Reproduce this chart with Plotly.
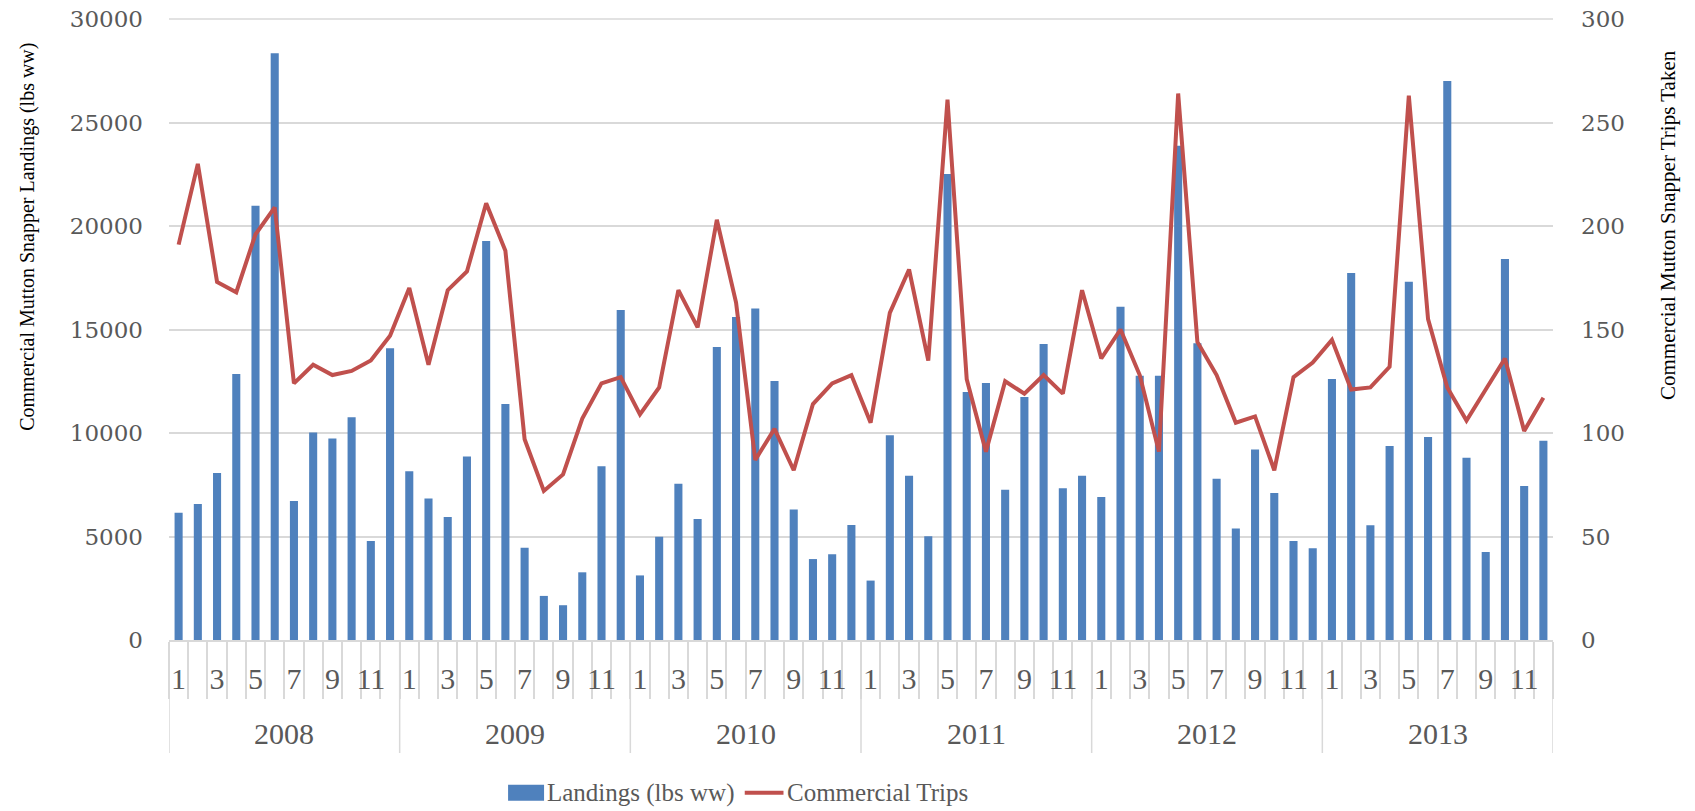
import plotly.graph_objects as go

years = ["2008", "2009", "2010", "2011", "2012", "2013"]
months = list(range(1, 13))

# Landings (lbs ww) per month
landings_2008 = [6150, 6570, 8070, 12850, 20980, 28340, 6710, 10030, 9730, 10760, 4780, 14090]
landings_2009 = [8150, 6840, 5940, 8870, 19280, 11400, 4460, 2130, 1680, 3270, 8390, 15940]
landings_2010 = [3120, 4990, 7550, 5850, 14150, 15600, 16020, 12510, 6310, 3910, 4140, 5560]
landings_2011 = [2870, 9890, 7940, 5010, 22510, 11980, 12420, 7260, 11740, 14300, 7330, 7940]
landings_2012 = [6910, 16100, 12770, 12770, 23880, 14330, 7790, 5390, 9200, 7100, 4780, 4430]
landings_2013 = [12610, 17730, 5540, 9370, 17310, 9810, 27000, 8810, 4250, 18400, 7440, 9630]

# Commercial trips per month
trips_2008 = [191, 230, 173, 168, 196, 209, 124, 133, 128, 130, 135, 147]
trips_2009 = [170, 133, 169, 178, 211, 188, 97, 72, 80, 107, 124, 127]
trips_2010 = [109, 122, 169, 151, 203, 163, 87, 102, 82, 114, 124, 128]
trips_2011 = [105, 158, 179, 135, 261, 126, 91, 125, 119, 128, 119, 169]
trips_2012 = [136, 150, 128, 91, 264, 144, 128, 105, 108, 82, 127, 134]
trips_2013 = [145, 121, 122, 132, 263, 155, 122, 106, 121, 136, 101, 117]

landings = (landings_2008 + landings_2009 + landings_2010
            + landings_2011 + landings_2012 + landings_2013)
trips = trips_2008 + trips_2009 + trips_2010 + trips_2011 + trips_2012 + trips_2013

n_months = len(months)
x = list(range(1, len(years) * n_months + 1))

# odd month labels only, as in the original
tick_vals = [k * n_months + m for k in range(len(years)) for m in months if m % 2 == 1]
tick_text = [str(m) for _ in years for m in months if m % 2 == 1]

GRID = "#d9d9d9"
GREY = "#595959"
BLUE = "#4f81bd"
RED = "#c0504d"
SERIF = "Liberation Serif, Times New Roman, serif"

fig = go.Figure()

fig.add_trace(go.Bar(
    x=x, y=landings,
    name="Landings (lbs ww)",
    marker=dict(color=BLUE, line=dict(width=0)),
    yaxis="y",
))

fig.add_trace(go.Scatter(
    x=x, y=trips,
    name="Commercial Trips",
    mode="lines",
    line=dict(color=RED, width=4),
    yaxis="y2",
))

shapes = []
annotations = []
for k, yr in enumerate(years + [None]):
    # year divider lines below the axis
    shapes.append(dict(
        type="line", xref="x", yref="paper",
        x0=0.5 + k * n_months, x1=0.5 + k * n_months,
        y0=0, y1=-0.182,
        line=dict(color=GRID, width=1.5),
    ))
    if yr is not None:
        annotations.append(dict(
            x=0.5 + k * n_months + n_months / 2, y=-0.150,
            xref="x", yref="paper", text=yr, showarrow=False,
            xanchor="center", yanchor="middle",
            font=dict(family=SERIF, size=30, color=GREY),
        ))

# top gridline (plotly leaves out the one sitting on the range edge)
shapes.append(dict(type="line", xref="paper", yref="paper",
                   x0=0, x1=1, y0=1, y1=1,
                   line=dict(color=GRID, width=1.5), layer="below"))

# axis titles (sit above the middle of the plot in the original)
annotations.append(dict(
    x=-0.102, y=0.649, xref="paper", yref="paper",
    xanchor="center", yanchor="middle",
    text="Commercial Mutton Snapper Landings (lbs ww)", textangle=-90,
    showarrow=False, font=dict(family=SERIF, size=20, color="black"),
))
annotations.append(dict(
    x=1.083, y=0.668, xref="paper", yref="paper",
    xanchor="center", yanchor="middle",
    text="Commercial Mutton Snapper Trips Taken", textangle=-90,
    showarrow=False, font=dict(family=SERIF, size=21, color="black"),
))

# legend, drawn Excel-style below the chart
leg_y = -0.246
shapes.append(dict(type="rect", xref="paper", yref="paper",
                   x0=0.245, x1=0.271, y0=leg_y - 0.013, y1=leg_y + 0.013,
                   fillcolor=BLUE, line=dict(width=0)))
shapes.append(dict(type="line", xref="paper", yref="paper",
                   x0=0.416, x1=0.444, y0=leg_y, y1=leg_y,
                   line=dict(color=RED, width=4)))
annotations.append(dict(x=0.272, y=leg_y, xref="paper", yref="paper",
                        xanchor="left", yanchor="middle", showarrow=False,
                        text="Landings (lbs ww)",
                        font=dict(family=SERIF, size=25, color=GREY)))
annotations.append(dict(x=0.445, y=leg_y, xref="paper", yref="paper",
                        xanchor="left", yanchor="middle", showarrow=False,
                        text="Commercial Trips",
                        font=dict(family=SERIF, size=25, color=GREY)))

fig.update_layout(
    width=1695, height=811,
    margin=dict(l=169, r=142, t=19, b=171, autoexpand=False),
    plot_bgcolor="white", paper_bgcolor="white",
    bargap=0.58,
    shapes=shapes,
    annotations=annotations,
    showlegend=False,
    xaxis=dict(
        range=[0.5, 72.5],
        tickmode="array", tickvals=tick_vals, ticktext=tick_text,
        ticks="", showgrid=False, zeroline=False,
        showline=True, linecolor=GRID, linewidth=1.5,
        tickfont=dict(family=SERIF, size=30, color=GREY),
        ticklabelstandoff=11, automargin=False,
        minor=dict(ticks="outside", tick0=0.5, dtick=1, ticklen=57,
                   tickcolor=GRID, tickwidth=1.5, showgrid=False),
    ),
    yaxis=dict(
        range=[0, 30000], dtick=5000, tickformat="d",
        showgrid=True, gridcolor=GRID, gridwidth=1.5,
        zeroline=False, showline=False, ticks="",
        tickfont=dict(family="DejaVu Serif", size=23, color=GREY),
        ticklabelstandoff=25, automargin=False,
    ),
    yaxis2=dict(
        range=[0, 300], dtick=50, overlaying="y", side="right",
        showgrid=False, zeroline=False, showline=False, ticks="",
        tickfont=dict(family="DejaVu Serif", size=23, color=GREY),
        ticklabelstandoff=27, automargin=False,
    ),
)

# drop the default 8px body margin so the figure fills the window exactly
fig.write_html("out.html", config={"displayModeBar": False},
               post_script="document.body.style.margin = '0';")
